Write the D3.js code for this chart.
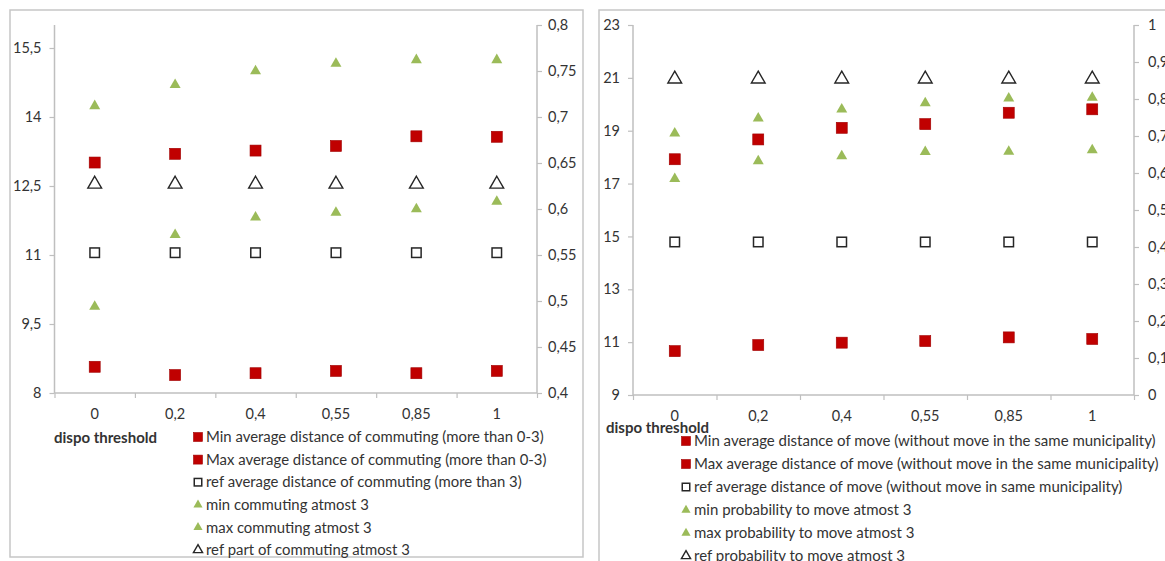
<!DOCTYPE html>
<html>
<head>
<meta charset="utf-8">
<script src="https://cdn.jsdelivr.net/npm/d3@7"></script>
<style>
  html, body { margin: 0; padding: 0; background: #fff; }
  svg { display: block; }
  text { font-family: Lato, "Open Sans", sans-serif; fill: #333; }
</style>
</head>
<body>
<svg id="chart" width="1165" height="561"></svg>
<script>
// ---------- data ----------
const categories = ["0", "0,2", "0,4", "0,55", "0,85", "1"];

// left chart: commuting
const commMinDist   = [8.57, 8.39, 8.43, 8.48, 8.43, 8.48];
const commMaxDist   = [13.01, 13.20, 13.27, 13.37, 13.58, 13.57];
const commRefDist   = [11.05, 11.05, 11.05, 11.05, 11.05, 11.05];
const commMinAtmost = [0.494, 0.572, 0.591, 0.596, 0.600, 0.608];
const commMaxAtmost = [0.712, 0.735, 0.750, 0.758, 0.762, 0.762];
const commRefAtmost = [0.627, 0.627, 0.627, 0.627, 0.627, 0.627];
const commLeftTicks  = [8, 9.5, 11, 12.5, 14, 15.5];
const commRightTicks = [0.4, 0.45, 0.5, 0.55, 0.6, 0.65, 0.7, 0.75, 0.8];
const commLegend = [
  "Min average distance of commuting (more than 0-3)",
  "Max average distance of commuting (more than 0-3)",
  "ref average distance of commuting (more than 3)",
  "min commuting atmost 3",
  "max commuting atmost 3",
  "ref part of commuting atmost 3"
];

// right chart: moves
const moveMinDist = [10.66, 10.89, 10.98, 11.04, 11.18, 11.12];
const moveMaxDist = [17.92, 18.67, 19.11, 19.25, 19.68, 19.81];
const moveRefDist = [14.79, 14.79, 14.79, 14.79, 14.79, 14.79];
const moveMinProb = [0.584, 0.632, 0.646, 0.657, 0.658, 0.662];
const moveMaxProb = [0.707, 0.748, 0.772, 0.789, 0.802, 0.804];
const moveRefProb = [0.854, 0.854, 0.854, 0.854, 0.854, 0.854];
const moveLeftTicks  = [9, 11, 13, 15, 17, 19, 21, 23];
const moveRightTicks = [0, 0.1, 0.2, 0.3, 0.4, 0.5, 0.6, 0.7, 0.8, 0.9, 1];
const moveLegend = [
  "Min average distance of move (without move in the same municipality)",
  "Max average distance of move (without move in the same municipality)",
  "ref average distance of move (without move in same municipality)",
  "min probability to move atmost 3",
  "max probability to move atmost 3",
  "ref probability to move atmost 3"
];

const xTitle = "dispo threshold";

// ---------- drawing ----------
const RED = "#c00000", GREEN = "#9bbb59", AXIS = "#bfbfbf", DARK = "#262626";
const fmt = v => String(+v.toFixed(3)).replace(".", ",");
const svg = d3.select("#chart");

function marker(g, type, size) {
  if (type === "sq") {
    g.append("rect").attr("x", -size/2).attr("y", -size/2).attr("width", size).attr("height", size)
      .attr("fill", RED).attr("stroke", "#a00000").attr("stroke-width", 0.6);
  } else if (type === "hsq") {
    const s = size - 1.5;
    g.append("rect").attr("x", -s/2).attr("y", -s/2).attr("width", s).attr("height", s)
      .attr("fill", "#fff").attr("stroke", DARK).attr("stroke-width", 1.5);
  } else if (type === "tri") {
    g.append("path").attr("d", d3.symbol(d3.symbolTriangle2, size*size*0.6)())
      .attr("fill", GREEN);
  } else if (type === "htri") {
    g.append("path").attr("d", d3.symbol(d3.symbolTriangle2, size*size*0.6)())
      .attr("fill", "#fff").attr("stroke", DARK).attr("stroke-width", 1.4);
  }
}

function drawPanel(cfg) {
  const g = svg.append("g");
  // panel frame
  g.append("rect").attr("x", cfg.frame[0]).attr("y", cfg.frame[1])
    .attr("width", cfg.frame[2]).attr("height", cfg.frame[3])
    .attr("fill", "#fff").attr("stroke", "#c6c6c6").attr("stroke-width", 1.5);

  const x = d3.scaleBand().domain(categories).range([cfg.x0, cfg.x1]).padding(0);
  const xi = d3.scaleLinear().domain([0, categories.length]).range([cfg.x0, cfg.x1]);
  const yL = d3.scaleLinear().domain([cfg.leftTicks[0], cfg.leftMax]).range([cfg.yb, cfg.yt]);
  const yR = d3.scaleLinear().domain([cfg.rightTicks[0], cfg.rightTicks[cfg.rightTicks.length-1]]).range([cfg.yb, cfg.yt]);

  const la = g.append("g").attr("transform", `translate(${cfg.x0},0)`)
    .call(d3.axisLeft(yL).tickValues(cfg.leftTicks).tickSize(5).tickPadding(8).tickFormat(fmt));
  const ra = g.append("g").attr("transform", `translate(${cfg.x1},0)`)
    .call(d3.axisRight(yR).tickValues(cfg.rightTicks).tickSize(5).tickPadding(cfg.rightPad).tickFormat(fmt));
  const ba = g.append("g").attr("transform", `translate(0,${cfg.yb})`)
    .call(d3.axisBottom(xi).tickValues(d3.range(categories.length + 1)).tickSize(5).tickFormat(""));
  const bl = g.append("g").attr("transform", `translate(0,${cfg.yb})`)
    .call(d3.axisBottom(x).tickSize(0).tickPadding(cfg.xLabelPad));
  bl.select(".domain").remove();
  [la, ra, ba].forEach(a => {
    a.select(".domain").remove();
    a.selectAll(".tick line").attr("stroke", AXIS).attr("stroke-width", 1.2);
  });
  g.append("line").attr("x1", cfg.x0).attr("x2", cfg.x0).attr("y1", cfg.yt).attr("y2", cfg.yb)
    .attr("stroke", AXIS).attr("stroke-width", 1.5);
  g.append("line").attr("x1", cfg.x1).attr("x2", cfg.x1).attr("y1", cfg.yt).attr("y2", cfg.yb)
    .attr("stroke", AXIS).attr("stroke-width", 1.5);
  g.append("line").attr("x1", cfg.x0).attr("x2", cfg.x1).attr("y1", cfg.yb).attr("y2", cfg.yb)
    .attr("stroke", AXIS).attr("stroke-width", 1.5);
  g.selectAll(".tick text").style("font-family", "Lato, 'Open Sans', sans-serif")
    .style("font-size", "14.5px").attr("fill", "#333");

  // series
  const cx = c => x(c) + x.bandwidth() / 2;
  cfg.series.forEach(s => {
    const sc = s.axis === "L" ? yL : yR;
    g.append("g").selectAll("g").data(s.values).join("g")
      .attr("transform", (v, i) => `translate(${cx(categories[i])},${sc(v)})`)
      .each(function() { marker(d3.select(this), s.type, s.size); });
  });

  // x title
  g.append("text").attr("x", cfg.titleX).attr("y", cfg.titleY).attr("dy", "0.35em")
    .style("font-size", "15px").style("font-weight", "bold").attr("fill", "#262626")
    .text(xTitle);

  // legend
  cfg.series.forEach((s, i) => {
    const yy = cfg.legY + i * cfg.legStep;
    const mg = g.append("g").attr("transform", `translate(${cfg.legX},${yy})`);
    marker(mg, s.type, s.type === "tri" || s.type === "htri" ? 10 : 9);
    g.append("text").attr("x", cfg.legX + 8).attr("y", yy).attr("dy", "0.35em")
      .style("font-size", cfg.legFont + "px").text(cfg.legend[i]);
  });
}

drawPanel({
  frame: [10, 10, 573, 547],
  x0: 54.5, x1: 537, yt: 25, yb: 393,
  leftTicks: commLeftTicks, leftMax: 16, rightTicks: commRightTicks, rightPad: 6,
  xLabelPad: 16,
  titleX: 54, titleY: 438,
  legX: 198, legY: 437, legStep: 22.6, legend: commLegend, legFont: 14.9,
  series: [
    {values: commMinDist, axis: "L", type: "sq", size: 11},
    {values: commMaxDist, axis: "L", type: "sq", size: 11},
    {values: commRefDist, axis: "L", type: "hsq", size: 11},
    {values: commMinAtmost, axis: "R", type: "tri", size: 12},
    {values: commMaxAtmost, axis: "R", type: "tri", size: 12},
    {values: commRefAtmost, axis: "R", type: "htri", size: 15}
  ]
});

drawPanel({
  frame: [599, 10, 600, 600],
  x0: 633, x1: 1134, yt: 25, yb: 395,
  leftTicks: moveLeftTicks, leftMax: 23, rightTicks: moveRightTicks, rightPad: 9,
  xLabelPad: 16,
  titleX: 606, titleY: 428,
  legX: 686, legY: 441, legStep: 23, legend: moveLegend, legFont: 15,
  series: [
    {values: moveMinDist, axis: "L", type: "sq", size: 11},
    {values: moveMaxDist, axis: "L", type: "sq", size: 11},
    {values: moveRefDist, axis: "L", type: "hsq", size: 11},
    {values: moveMinProb, axis: "R", type: "tri", size: 12},
    {values: moveMaxProb, axis: "R", type: "tri", size: 12},
    {values: moveRefProb, axis: "R", type: "htri", size: 15}
  ]
});
</script>
</body>
</html>
